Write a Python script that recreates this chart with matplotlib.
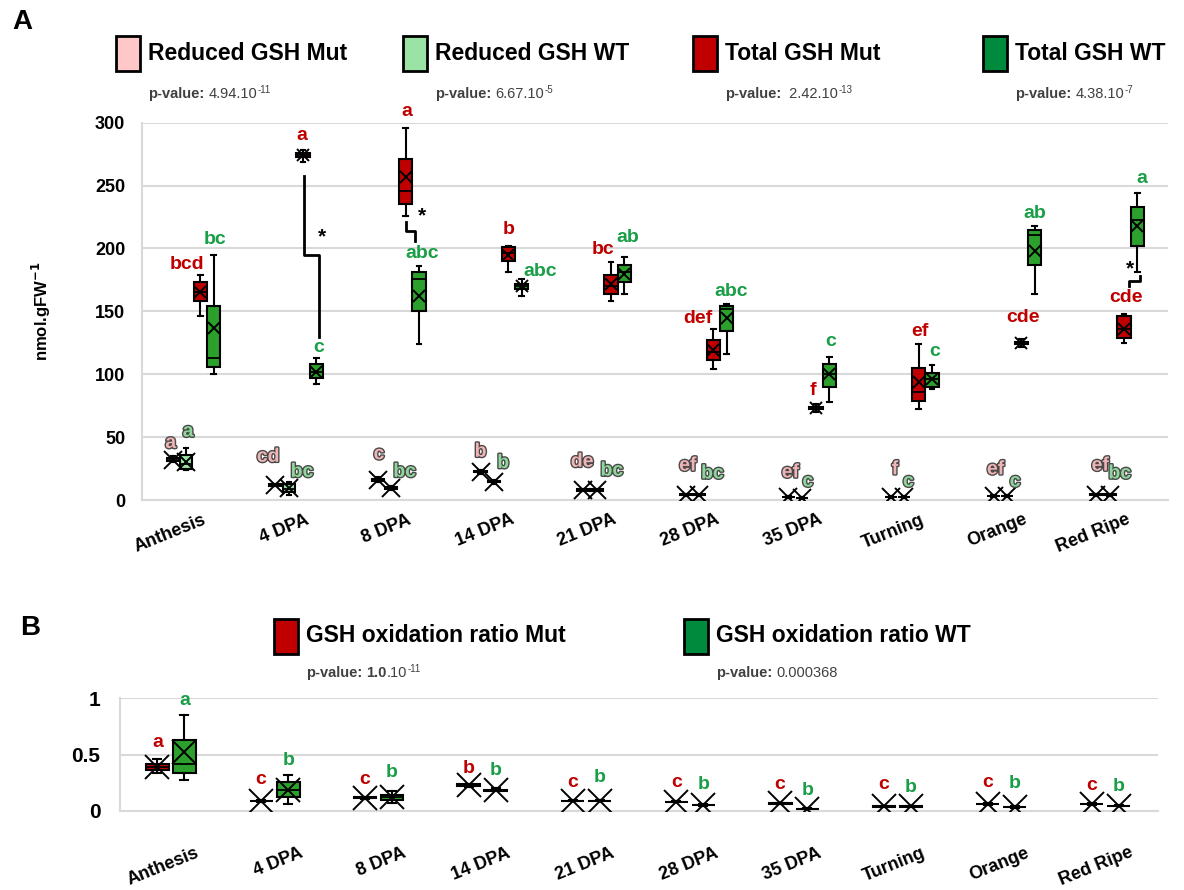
import numpy as np
import matplotlib
matplotlib.use("Agg")
import matplotlib.pyplot as plt
from matplotlib.patches import Rectangle
from matplotlib.transforms import ScaledTranslation
import matplotlib.patheffects as pe

plt.rcParams['font.family'] = ['Liberation Sans', 'DejaVu Sans']
plt.rcParams['font.weight'] = 'bold'

stages = ['Anthesis', '4 DPA', '8 DPA', '14 DPA', '21 DPA', '28 DPA',
          '35 DPA', 'Turning', 'Orange', 'Red Ripe']

# box stats per stage: (whisker low, q1, median, q3, whisker high, mean)
reduced_mut = [(30, 31, 32, 33, 35, 32), (11, 11.5, 12, 12.5, 13, 12),
               (14, 15, 16, 17, 18, 16), (21, 22, 22.5, 23, 24, 22.5),
               (7, 7.5, 8, 8.5, 9, 8), (3.5, 4, 4, 4.5, 5, 4),
               (1.5, 2, 2, 2.5, 3, 2), (1.5, 2, 2, 2.5, 3, 2),
               (2.5, 3, 3, 3.5, 4, 3), (3.5, 4, 4, 4.5, 5, 4)]
reduced_wt = [(24, 25, 29, 36, 41, 30.5), (4, 6, 9, 13, 14, 9.3),
              (8, 9, 9.5, 10, 11, 9.5), (13, 14, 14.5, 15, 16, 14.5),
              (7, 7.5, 8, 8.5, 9, 8), (3.5, 4, 4, 4.5, 5, 4),
              (1, 1.3, 1.5, 1.8, 2, 1.5), (1.5, 2, 2, 2.5, 3, 2),
              (2.5, 3, 3, 3.5, 4, 3), (3.5, 4, 4, 4.5, 5, 4)]
total_mut = [(146, 158, 165, 173, 179, 165), (269, 273, 274.5, 276, 278, 274.5),
             (226, 235, 245.5, 271, 296, 256.5), (181, 190, 196, 201, 202, 195),
             (158, 164, 170, 179, 189, 172), (104, 111, 118, 127, 136, 119),
             (70, 72, 73, 74, 76, 73), (72, 79, 86, 105, 124, 94),
             (122, 124, 125, 126, 128, 125), (125, 129, 136, 146, 148, 136)]
total_wt = [(100, 106, 113, 154, 195, 137), (92, 97, 102, 108, 113, 102),
            (124, 150, 176, 181, 186, 162), (162, 168, 170, 172, 176, 170),
            (164, 173, 181, 187, 193, 180), (116, 134, 152, 154, 156, 145),
            (78, 90, 100, 108, 114, 100), (88, 90, 96, 101, 107, 96),
            (164, 187, 211, 215, 218, 198), (181, 202, 223, 233, 244, 218)]
ratio_mut = [(0.34, 0.36, 0.39, 0.42, 0.46, 0.39), (0.08, 0.085, 0.088, 0.091, 0.095, 0.088),
             (0.11, 0.115, 0.118, 0.121, 0.125, 0.118), (0.215, 0.225, 0.23, 0.235, 0.24, 0.23),
             (0.085, 0.088, 0.09, 0.092, 0.095, 0.09), (0.077, 0.08, 0.082, 0.084, 0.087, 0.082),
             (0.063, 0.066, 0.068, 0.07, 0.073, 0.068), (0.035, 0.038, 0.04, 0.042, 0.045, 0.04),
             (0.057, 0.06, 0.062, 0.064, 0.067, 0.062), (0.057, 0.06, 0.062, 0.064, 0.067, 0.062)]
ratio_wt = [(0.27, 0.34, 0.416, 0.63, 0.85, 0.525), (0.06, 0.127, 0.19, 0.26, 0.32, 0.19),
            (0.07, 0.10, 0.12, 0.14, 0.18, 0.12), (0.175, 0.18, 0.186, 0.19, 0.2, 0.186),
            (0.085, 0.088, 0.09, 0.092, 0.095, 0.09), (0.048, 0.051, 0.053, 0.055, 0.058, 0.053),
            (0.015, 0.018, 0.02, 0.022, 0.025, 0.02), (0.035, 0.038, 0.04, 0.042, 0.045, 0.04),
            (0.03, 0.033, 0.035, 0.037, 0.04, 0.035), (0.04, 0.043, 0.045, 0.047, 0.05, 0.045)]

# significance letters
let_reduced_mut = ['a', 'cd', 'c', 'b', 'de', 'ef', 'ef', 'f', 'ef', 'ef']
let_reduced_wt = ['a', 'bc', 'bc', 'b', 'bc', 'bc', 'c', 'c', 'c', 'bc']
let_total_mut = ['bcd', 'a', 'a', 'b', 'bc', 'def', 'f', 'ef', 'cde', 'cde']
let_total_wt = ['bc', 'c', 'abc', 'abc', 'ab', 'abc', 'c', 'c', 'ab', 'a']
let_ratio_mut = ['a', 'c', 'c', 'b', 'c', 'c', 'c', 'c', 'c', 'c']
let_ratio_wt = ['a', 'b', 'b', 'b', 'b', 'b', 'b', 'b', 'b', 'b']

# letter anchor positions (layout)
xy_reduced_mut = [(-0.22, 45), (0.73, 34), (1.81, 36), (2.80, 38), (3.79, 30),
                  (4.82, 27), (5.82, 21.5), (6.84, 24), (7.82, 24), (8.84, 27)]
xy_reduced_wt = [(-0.05, 54), (1.06, 22), (2.06, 22), (3.02, 29), (4.08, 23),
                 (5.06, 20.7), (5.99, 14.3), (6.97, 14.3), (8.01, 14.3), (9.03, 20.7)]
xy_total_mut = [(-0.06, 187), (1.06, 290), (2.08, 309), (3.07, 215), (3.99, 199),
                (4.92, 144), (6.04, 87), (7.08, 134), (8.09, 145), (9.09, 161)]
xy_total_wt = [(0.21, 207.5), (1.22, 121), (2.23, 196), (3.38, 182), (4.23, 209),
               (5.24, 166), (6.21, 126), (7.23, 118), (8.2, 228), (9.24, 256)]
y_ratio_mut = [0.61, 0.28, 0.28, 0.38, 0.25, 0.25, 0.235, 0.235, 0.255, 0.23]
y_ratio_wt = [0.98, 0.445, 0.34, 0.36, 0.30, 0.235, 0.18, 0.21, 0.24, 0.22]

brackets = [[(1.08, 258), (1.08, 195), (1.23, 195), (1.23, 130)],
            [(2.07, 221), (2.07, 214), (2.16, 214), (2.16, 206)],
            [(9.12, 170), (9.12, 174.5), (9.23, 174.5), (9.23, 178)]]
stars = [(1.25, 209), (2.23, 226), (9.13, 184)]

RED = '#c00000'
GREEN = '#2ca02c'
TXT_GREEN = '#1a9e47'
PINK = '#ffc8c8'
LGREEN = '#9be3a4'

W, H = 1184, 890
fig = plt.figure(figsize=(W / 100, H / 100), dpi=100)


def fx(px):
    return px / W


def fy(py):
    return 1 - py / H


axA = fig.add_axes([fx(142), fy(500), (1168 - 142) / W, (500 - 122.7) / H])
axB = fig.add_axes([fx(120), fy(811), (1158 - 120) / W, (811 - 698) / H])


def draw_boxes(ax, rows, pos, width, fill, msize):
    stats = [dict(whislo=r[0], q1=r[1], med=r[2], q3=r[3], whishi=r[4], mean=r[5], fliers=[])
             for r in rows]
    ax.bxp(stats, positions=pos, widths=width, patch_artist=True, showmeans=True,
           showfliers=False, manage_ticks=False, capwidths=width * 0.35,
           boxprops=dict(facecolor=fill, edgecolor='black', linewidth=1.5),
           medianprops=dict(color='black', linewidth=1.3),
           whiskerprops=dict(color='black', linewidth=1.5),
           capprops=dict(color='black', linewidth=1.5),
           meanprops=dict(marker='x', markeredgecolor='black', markersize=msize,
                          markeredgewidth=1.4),
           zorder=3)


def style_axis(ax, ymax, yticks, ylabels, pad, size, xdx, xpad):
    ax.set_xlim(-0.5, 9.5)
    ax.set_ylim(0, ymax)
    for s in ['top', 'right', 'bottom']:
        ax.spines[s].set_visible(False)
    ax.spines['left'].set_color('#d9d9d9')
    ax.spines['left'].set_linewidth(1.5)
    ax.set_yticks(yticks)
    ax.set_yticklabels(ylabels, fontsize=size, fontweight='bold')
    ax.yaxis.grid(True, color='#d9d9d9', linewidth=1.5, zorder=0)
    ax.set_axisbelow(True)
    ax.tick_params(axis='y', length=0, pad=pad)
    ax.set_xticks(range(len(stages)))
    ax.set_xticklabels(stages, rotation=22, ha='right', va='top', rotation_mode='anchor',
                       fontsize=13, fontweight='bold')
    ax.tick_params(axis='x', length=0, pad=xpad)
    for lab in ax.get_xticklabels():
        lab.set_transform(lab.get_transform() + ScaledTranslation(xdx / 100, 0, fig.dpi_scale_trans))


x = np.arange(len(stages))

# ---- panel A
style_axis(axA, 300, range(0, 301, 50), [str(v) for v in range(0, 301, 50)], 12, 13, 9, 8)
axA.axhline(0, color='#d9d9d9', lw=1.5, zorder=0, clip_on=False)
draw_boxes(axA, reduced_mut, x - 0.2, 0.12, PINK, 13)
draw_boxes(axA, reduced_wt, x - 0.07, 0.12, LGREEN, 13)
draw_boxes(axA, total_mut, x + 0.07, 0.13, RED, 9)
draw_boxes(axA, total_wt, x + 0.2, 0.13, GREEN, 9)

outline = [pe.Stroke(linewidth=2, foreground='#4a4a4a'), pe.Normal()]
for lbl, (lx, ly) in zip(let_reduced_mut, xy_reduced_mut):
    axA.text(lx, ly, lbl, color='#f0b4b4', fontsize=14, ha='center', va='center',
             fontweight='bold', path_effects=outline, zorder=5)
for lbl, (lx, ly) in zip(let_reduced_wt, xy_reduced_wt):
    axA.text(lx, ly, lbl, color='#8fd69a', fontsize=14, ha='center', va='center',
             fontweight='bold', path_effects=outline, zorder=5)
for lbl, (lx, ly) in zip(let_total_mut, xy_total_mut):
    axA.text(lx, ly, lbl, color=RED, fontsize=14, ha='center', va='center',
             fontweight='bold', zorder=5, clip_on=False)
for lbl, (lx, ly) in zip(let_total_wt, xy_total_wt):
    axA.text(lx, ly, lbl, color=TXT_GREEN, fontsize=14, ha='center', va='center',
             fontweight='bold', zorder=5, clip_on=False)

for br in brackets:
    bx, by = zip(*br)
    axA.plot(bx, by, color='black', lw=2, zorder=4)
for sx, sy in stars:
    axA.text(sx, sy, '*', fontsize=15, ha='center', va='center', color='black')

axA.set_ylabel('nmol.gFW$^{\\mathbf{-1}}$', fontsize=12, fontweight='bold', labelpad=30)

# ---- panel B
style_axis(axB, 1, [0, 0.5, 1], ['0', '0.5', '1'], 14, 15, 23, 24)
axB.axhline(0, color='#d9d9d9', lw=1.5, zorder=0, clip_on=False)
draw_boxes(axB, ratio_mut, x - 0.14, 0.22, RED, 17)
draw_boxes(axB, ratio_wt, x + 0.12, 0.22, GREEN, 17)
for i in range(len(stages)):
    axB.text(x[i] - 0.14, y_ratio_mut[i], let_ratio_mut[i], color=RED, fontsize=14,
             ha='center', va='center', fontweight='bold', clip_on=False)
    axB.text(x[i] + 0.12, y_ratio_wt[i], let_ratio_wt[i], color=TXT_GREEN, fontsize=14,
             ha='center', va='center', fontweight='bold', clip_on=False)

# ---- panel letters, legends and p-values
fig.text(fx(12), fy(22), 'A', fontsize=20, fontweight='bold', va='center')
fig.text(fx(20), fy(628), 'B', fontsize=20, fontweight='bold', va='center')


def legend_item(bx, by, color, label, ty, py, pval, exp=None, bold_num=None):
    fig.add_artist(Rectangle((fx(bx), fy(by + 35)), 24 / W, 35 / H, transform=fig.transFigure,
                             facecolor=color, edgecolor='black', linewidth=2))
    fig.text(fx(bx + 32), fy(ty), label, fontsize=16.5, fontweight='bold', va='center')
    t = fig.text(fx(bx + 32), fy(py), 'p-value:', fontsize=10.5, fontweight='bold',
                 color='#404040', va='center')
    parts = []
    if bold_num:
        parts.append((bold_num, 'bold', 10.5, 0))
    parts.append((pval, 'normal', 10.5, 0))
    if exp:
        parts.append((exp, 'normal', 7, 4))
    prev, gap = t, 3
    for s, wgt, sz, up in parts:
        prev = axA.annotate(s, xy=(1, 0), xycoords=prev, xytext=(gap, up),
                            textcoords='offset points', fontsize=sz, fontweight=wgt,
                            color='#404040', va='bottom', ha='left', annotation_clip=False)
        gap = 0


legend_item(116, 36, PINK, 'Reduced GSH Mut', 53, 94, '4.94.10', '-11')
legend_item(403, 36, LGREEN, 'Reduced GSH WT', 53, 94, '6.67.10', '-5')
legend_item(693, 36, RED, 'Total GSH Mut', 53, 94, ' 2.42.10', '-13')
legend_item(983, 36, '#008a3e', 'Total GSH WT', 53, 94, '4.38.10', '-7')
legend_item(274, 619, RED, 'GSH oxidation ratio Mut', 636, 673, '.10', '-11', bold_num='1.0')
legend_item(684, 619, '#008a3e', 'GSH oxidation ratio WT', 636, 673, '0.000368')

fig.savefig('out.png', dpi=100)
